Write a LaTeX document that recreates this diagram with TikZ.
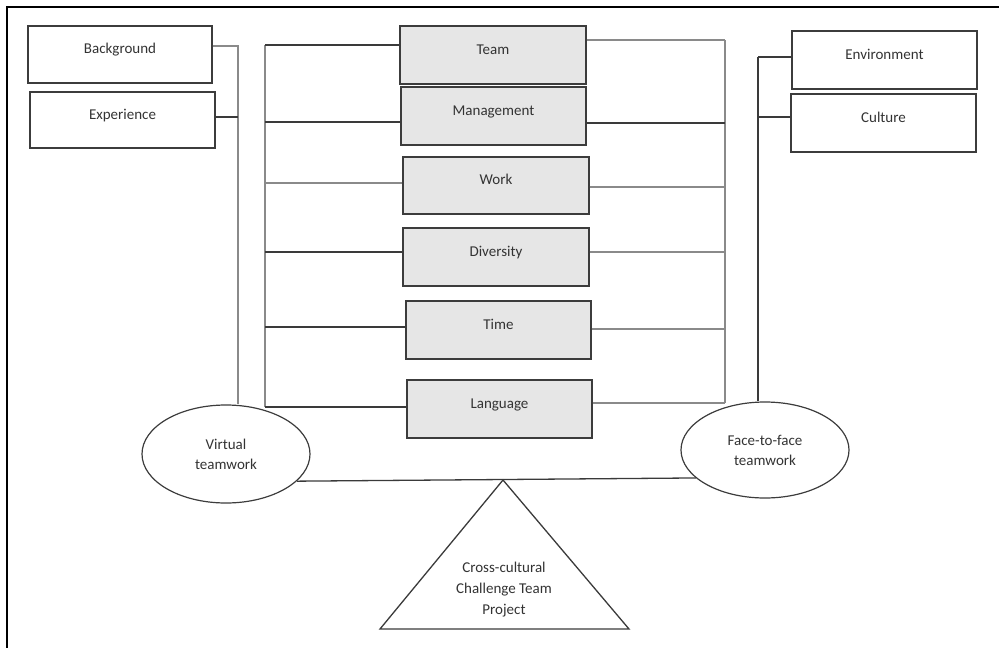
\documentclass[tikz,border=0pt]{standalone}
\usepackage{fontspec}
\setmainfont{Carlito}
\usetikzlibrary{shapes.geometric}
\definecolor{boxc}{HTML}{3C3C3C}
\definecolor{boxfill}{HTML}{E6E6E6}
\definecolor{txt}{HTML}{333333}
\definecolor{dkline}{HTML}{3A3A3A}
\definecolor{ltline}{HTML}{8A8A8A}
\begin{document}
\begin{tikzpicture}[x=1pt,y=-1pt,
  box/.style={draw=boxc, line width=1.3pt, minimum width=185pt, minimum height=57pt, inner sep=0pt,
    text height=11pt, text depth=13pt, font=\fontsize{15}{18}\selectfont, text=txt},
  gbox/.style={box, fill=boxfill},
  oval/.style={ellipse, draw=boxc, line width=1.2pt, inner sep=0pt, align=center,
    font=\fontsize{15}{20}\selectfont, text=txt},
  dk/.style={draw=dkline, line width=1.3pt},
  lt/.style={draw=ltline, line width=1.2pt}]
\useasboundingbox (0,0) rectangle (999,648);
\draw[line width=2pt, black] (7,648) -- (7,7) -- (999,7);

% side boxes
\node[box, minimum width=184pt] (bg) at (120,54.5) {Background};
\node[box, minimum height=56pt] (ex) at (122.5,120) {Experience};
\node[box, minimum height=58pt] (env) at (884.5,60) {Environment};
\node[box, minimum height=58pt] (cul) at (883.5,123) {Culture};

% centre boxes
\node[gbox, minimum width=186pt, minimum height=58pt] (team) at (493,55) {Team};
\node[gbox, minimum height=58pt] (mgmt) at (493.5,116) {Management};
\node[gbox, minimum width=186pt] (work) at (496,185.5) {Work};
\node[gbox, minimum width=186pt, minimum height=58pt] (div) at (496,257) {Diversity};
\node[gbox, minimum height=58pt] (time) at (498.5,330) {Time};
\node[gbox, minimum height=58pt] (lang) at (499.5,409) {Language};

% ellipses
\node[oval, minimum width=168pt, minimum height=98pt] (vt) at (226,454) {Virtual\\teamwork};
\node[oval, minimum width=168pt, minimum height=96pt] (ft) at (765,450) {Face-to-face\\teamwork};

% left outer connector
\coordinate (lo1) at (238,46);
\coordinate (lo2) at (238,117);
\draw[lt] (bg.east |- lo1) -- (lo1) -- (lo1 |- vt.north);
\draw[dk] (ex.east |- lo2) -- (lo2);

% left bus
\coordinate (l1) at (265,45);
\coordinate (l2) at (265,122);
\coordinate (l3) at (265,183);
\coordinate (l4) at (265,252);
\coordinate (l5) at (265,327);
\coordinate (l6) at (265,407);
\draw[lt] (l1) -- (l6);
\draw[dk] (l1) -- (l1 -| team.west);
\draw[dk] (l2) -- (l2 -| mgmt.west);
\draw[lt] (l3) -- (l3 -| work.west);
\draw[dk] (l4) -- (l4 -| div.west);
\draw[dk] (l5) -- (l5 -| time.west);
\draw[dk] (l6) -- (l6 -| lang.west);

% right bus
\coordinate (r1) at (725,40);
\coordinate (r2) at (725,123);
\coordinate (r3) at (725,187);
\coordinate (r4) at (725,252);
\coordinate (r5) at (725,329);
\coordinate (r6) at (725,403);
\draw[lt] (r1) -- (r6);
\draw[lt] (team.east |- r1) -- (r1);
\draw[dk] (mgmt.east |- r2) -- (r2);
\draw[lt] (work.east |- r3) -- (r3);
\draw[lt] (div.east |- r4) -- (r4);
\draw[lt] (time.east |- r5) -- (r5);
\draw[lt] (lang.east |- r6) -- (r6);

% right outer connector
\coordinate (e1) at (758,57);
\coordinate (e2) at (758,117);
\draw[dk] (e1) -- (e1 |- ft.north);
\draw[dk] (e1) -- (e1 -| env.west);
\draw[dk] (e2) -- (e2 -| cul.west);

% beam and triangle
\draw[dk] (vt.-21) -- (ft.202);
\coordinate (apex) at (503,480);
\coordinate (tl) at (380,629);
\coordinate (tr) at (629,629);
\draw[dk] (apex) -- (tl) -- (tr) -- cycle;
\node[align=center, font=\fontsize{15}{21}\selectfont, text=txt] (proj) at (504,590) {Cross-cultural\\Challenge Team\\Project};
\end{tikzpicture}
\end{document}
